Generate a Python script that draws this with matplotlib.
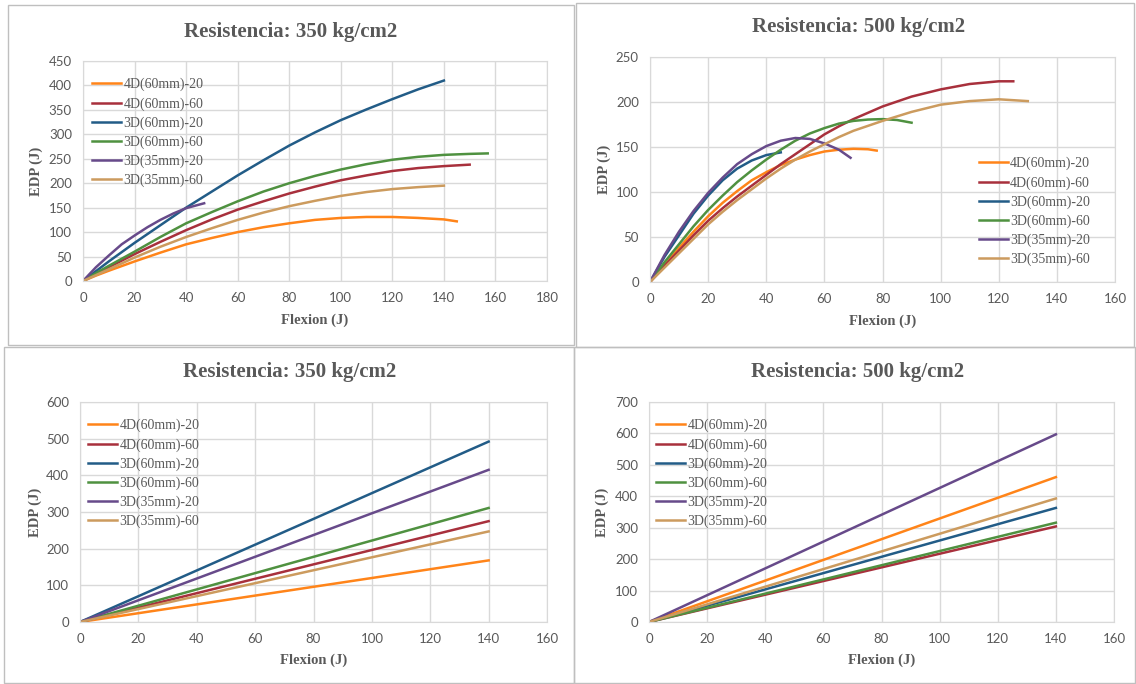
import matplotlib.pyplot as plt
from matplotlib.patches import Rectangle

W, H = 1136, 684

labels = ["4D(60mm)-20", "4D(60mm)-60", "3D(60mm)-20",
          "3D(60mm)-60", "3D(35mm)-20", "3D(35mm)-60"]
colors = ["#FF8419", "#A8303C", "#225C87", "#4F9140", "#674A8A", "#CC9B5E"]

# --- Resistencia 350, curves (top left)
x350_4d20 = [0, 5, 10, 20, 30, 40, 50, 60, 70, 80, 90, 100, 110, 120, 130, 140, 145]
y350_4d20 = [0, 11, 21, 40, 58, 75, 88, 100, 110, 118, 125, 129, 131, 131, 129, 126, 122]
x350_4d60 = [0, 5, 10, 20, 30, 40, 50, 60, 70, 80, 90, 100, 110, 120, 130, 140, 150]
y350_4d60 = [0, 14, 28, 55, 80, 104, 126, 146, 163, 179, 193, 206, 216, 225, 231, 235, 238]
x350_3d20 = [0, 5, 10, 20, 30, 40, 50, 60, 70, 80, 90, 100, 110, 120, 130, 140]
y350_3d20 = [0, 20, 40, 78, 114, 150, 183, 216, 247, 277, 304, 329, 351, 372, 392, 410]
x350_3d60 = [0, 5, 10, 20, 30, 40, 50, 60, 70, 80, 90, 100, 110, 120, 130, 140, 150, 157]
y350_3d60 = [0, 16, 31, 60, 90, 118, 141, 163, 183, 200, 215, 228, 239, 248, 254, 258, 260, 261]
x350_35d20 = [0, 5, 10, 15, 20, 25, 30, 35, 40, 47]
y350_35d20 = [0, 28, 52, 75, 93, 110, 125, 138, 149, 159]
x350_35d60 = [0, 5, 10, 20, 30, 40, 50, 60, 70, 80, 90, 100, 110, 120, 130, 140]
y350_35d60 = [0, 12, 24, 48, 70, 90, 108, 125, 140, 153, 164, 174, 182, 188, 192, 195]

# --- Resistencia 500, curves (top right)
x500_4d20 = [0, 5, 10, 15, 20, 25, 30, 35, 40, 45, 50, 55, 60, 65, 70, 75, 78]
y500_4d20 = [0, 19, 38, 56, 73, 88, 101, 113, 122, 130, 136, 141, 145, 147, 148, 147.5, 146]
x500_4d60 = [0, 5, 10, 15, 20, 25, 30, 35, 40, 45, 50, 55, 60, 65, 70, 80, 90, 100, 110, 120, 125]
y500_4d60 = [0, 18, 35, 52, 68, 82, 95, 107, 119, 131, 142, 153, 164, 173, 181, 195, 206, 214, 220, 223, 223]
x500_3d20 = [0, 5, 10, 15, 20, 25, 30, 35, 40, 45]
y500_3d20 = [0, 28, 52, 76, 96, 113, 126, 135, 141, 144]
x500_3d60 = [0, 5, 10, 15, 20, 25, 30, 35, 40, 45, 50, 55, 60, 65, 70, 75, 80, 85, 90]
y500_3d60 = [0, 22, 42, 62, 80, 96, 111, 124, 136, 147, 157, 165, 171, 176, 179, 180.5, 181, 180, 177]
x500_35d20 = [0, 5, 10, 15, 20, 25, 30, 35, 40, 45, 50, 55, 60, 65, 69]
y500_35d20 = [0, 30, 56, 79, 99, 116, 131, 142, 151, 157, 160, 159, 154, 147, 138]
x500_35d60 = [0, 5, 10, 15, 20, 25, 30, 35, 40, 45, 50, 55, 60, 65, 70, 80, 90, 100, 110, 120, 130]
y500_35d60 = [0, 16, 32, 48, 64, 78, 91, 103, 115, 126, 136, 145, 153, 161, 168, 179, 189, 197, 201, 203, 201]

# --- straight lines (bottom), end values at Flexion = 140
x_lin = [0, 140]
end350 = [168, 275, 492, 311, 415, 247]
end500 = [461, 304, 363, 316, 597, 393]

curves350 = [(x350_4d20, y350_4d20), (x350_4d60, y350_4d60), (x350_3d20, y350_3d20),
             (x350_3d60, y350_3d60), (x350_35d20, y350_35d20), (x350_35d60, y350_35d60)]
curves500 = [(x500_4d20, y500_4d20), (x500_4d60, y500_4d60), (x500_3d20, y500_3d20),
             (x500_3d60, y500_3d60), (x500_35d20, y500_35d20), (x500_35d60, y500_35d60)]

gray = "#595959"
fig = plt.figure(figsize=(W / 100, H / 100), dpi=100)


def px_axes(l, t, r, b):
    return fig.add_axes([l / W, 1 - b / H, (r - l) / W, (b - t) / H])


def frame(l, t, r, b):
    fig.patches.append(Rectangle((l / W, 1 - b / H), (r - l) / W, (b - t) / H,
                                 transform=fig.transFigure, fill=False,
                                 edgecolor="#BFBFBF", lw=1))


def style(ax, xmax, xstep, ymax, ystep, title, tx, ty, xl_y, yl_x):
    ax.set_xlim(0, xmax)
    ax.set_ylim(0, ymax)
    ax.set_xticks(range(0, xmax + 1, xstep))
    ax.set_yticks(range(0, ymax + 1, ystep))
    ax.grid(True, color="#D9D9D9", lw=1)
    ax.set_axisbelow(True)
    for s in ax.spines.values():
        s.set_color("#D9D9D9")
    ax.tick_params(length=0, labelsize=9.5, labelcolor=gray, pad=8)
    for lab in ax.get_xticklabels() + ax.get_yticklabels():
        lab.set_family("Lato")
    fig.text(tx / W, 1 - ty / H, title, ha="center", va="center", color=gray,
             fontsize=15, fontweight="bold", family="Liberation Serif")
    fig.text((ax.get_position().x0 + ax.get_position().x1) / 2, 1 - xl_y / H,
             "Flexion (J)", ha="center", va="center", color=gray,
             fontsize=10.5, fontweight="bold", family="Liberation Serif")
    fig.text(yl_x / W, (ax.get_position().y0 + ax.get_position().y1) / 2,
             "EDP (J)", ha="center", va="center", rotation=90, color=gray,
             fontsize=10.5, fontweight="bold", family="Liberation Serif")


def legend(ax, lx, ly):
    ax.legend(loc="upper left", bbox_to_anchor=(lx / W, 1 - ly / H),
              bbox_transform=fig.transFigure, frameon=False, borderpad=0,
              borderaxespad=0, handlelength=2.1, handletextpad=0.15,
              labelspacing=0.41,
              prop={"family": "Liberation Serif", "size": 10},
              labelcolor=gray)


# panel frames
frame(8, 5, 574, 345)
frame(576, 3, 1134, 347)
frame(4, 347, 574, 683)
frame(574, 347, 1135, 683)

# top left
ax1 = px_axes(83, 61, 547, 281)
for (x, y), c, lab in zip(curves350, colors, labels):
    ax1.plot(x, y, color=c, lw=1.8, label=lab)
style(ax1, 180, 20, 450, 50, "Resistencia: 350 kg/cm2", 291, 32, 320, 36)
legend(ax1, 92, 78)

# top right
ax2 = px_axes(650, 57, 1115, 282)
for (x, y), c, lab in zip(curves500, colors, labels):
    ax2.plot(x, y, color=c, lw=1.8, label=lab)
style(ax2, 160, 20, 250, 50, "Resistencia: 500 kg/cm2", 859, 27, 321, 604)
legend(ax2, 979, 157)

# bottom left
ax3 = px_axes(80, 402, 547, 622)
for e, c, lab in zip(end350, colors, labels):
    ax3.plot(x_lin, [0, e], color=c, lw=1.8, label=lab)
style(ax3, 160, 20, 600, 100, "Resistencia: 350 kg/cm2", 290, 372, 660, 35)
legend(ax3, 88, 419)

# bottom right
ax4 = px_axes(649, 402, 1114, 622)
for e, c, lab in zip(end500, colors, labels):
    ax4.plot(x_lin, [0, e], color=c, lw=1.8, label=lab)
style(ax4, 160, 20, 700, 100, "Resistencia: 500 kg/cm2", 858, 372, 660, 602)
legend(ax4, 656, 419)

plt.savefig("out.png", dpi=100)
